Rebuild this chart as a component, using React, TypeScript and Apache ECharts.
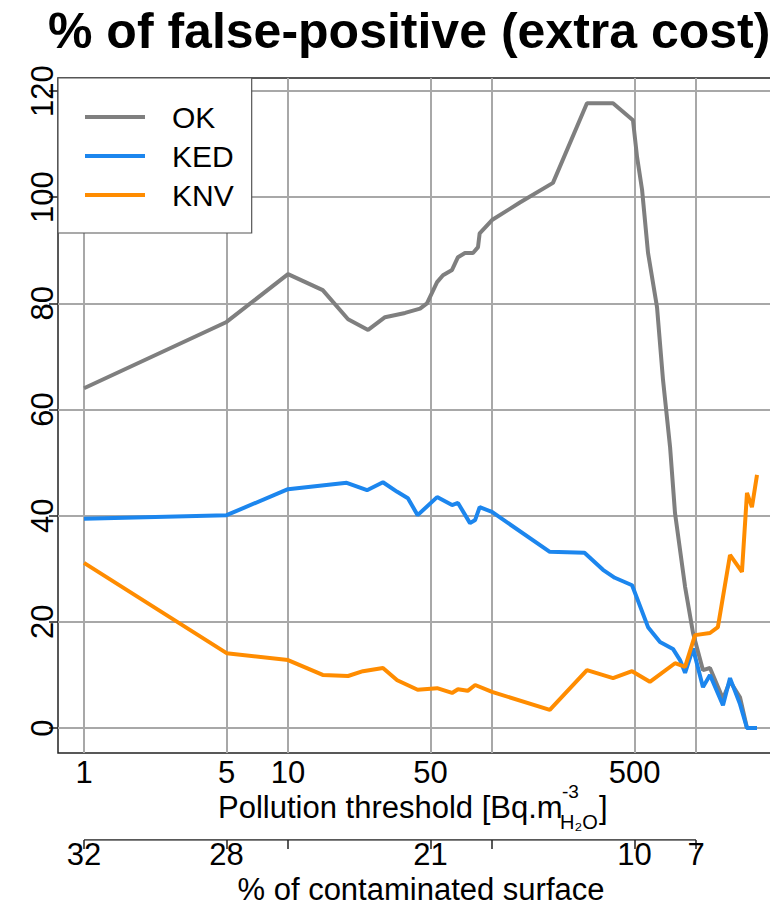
import React, { useEffect, useRef } from 'react';
import * as echarts from 'echarts';

const chartTitle = '% of false-positive (extra cost)';
const xTitleMain = 'Pollution threshold [Bq.m';
const xTitleSup = '-3';
const xTitleSub = 'H\u2082O';
const x2Title = '% of contaminated surface';
const seriesNames = ['OK', 'KED', 'KNV'];
const seriesColors = ['#7f7f7f', '#1c86ee', '#ff8c00'];

const okThreshold = [1, 5, 10, 14.8, 19.7, 24.7, 29.9, 37.5, 44.4, 48, 53.8, 57.5, 63.7, 68.1, 73.7, 80.7, 85.4, 87, 100, 137, 199, 292, 392, 491, 514, 544, 582, 644, 689, 746, 789, 884, 967, 1082, 1171, 1356, 1468, 1643, 1778, 1991];
const okValue = [64, 76.5, 85.5, 82.5, 77, 75, 77.4, 78.2, 79, 80, 84, 85.3, 86.3, 88.7, 89.5, 89.5, 90.6, 93.2, 95.7, 99, 102.7, 117.7, 117.7, 114.5, 107.6, 101.4, 89.5, 79.3, 65.6, 53, 40.5, 26.6, 17.9, 10.9, 11.3, 5.5, 8.8, 5.8, 0, 0];

const kedThreshold = [1, 5, 10, 19.4, 24.4, 29.2, 34.3, 38.7, 43.2, 53.8, 63.7, 68.1, 78, 82.7, 87, 100, 192, 284, 350, 400, 486, 582, 666, 771, 835, 884, 967, 1082, 1171, 1356, 1468, 1643, 1778, 1991];
const kedValue = [39.4, 40.1, 45, 46.2, 44.8, 46.3, 44.5, 43.3, 40.1, 43.5, 42, 42.4, 38.6, 39.2, 41.6, 40.7, 33.2, 33, 29.8, 28.3, 26.9, 19, 16.2, 14.9, 12.8, 10.4, 15, 7.7, 10, 4.3, 9.4, 4.5, 0, 0];

const knvThreshold = [1, 5, 10, 14.8, 19.7, 23.3, 29.2, 34.3, 43.2, 53.8, 63.7, 68.1, 76, 82.7, 100, 192, 292, 392, 486, 594, 789, 884, 989, 1171, 1280, 1468, 1680, 1778, 1880, 1991];
const knvValue = [31.1, 14.1, 12.8, 10, 9.8, 10.7, 11.3, 9, 7.2, 7.5, 6.6, 7.3, 7, 8.1, 6.8, 3.4, 10.9, 9.4, 10.7, 8.7, 12.2, 11.5, 17.5, 17.9, 19, 32.6, 29.4, 44.3, 41.6, 47.7];

const yTicks = [0, 20, 40, 60, 80, 100, 120];
const thresholdTicks = [1, 5, 10, 50, 100, 500, 1000];
const thresholdLabels = [1, 5, 10, 50, 500];
const surfaceTicks = [1, 5, 10, 50, 100, 500, 1000];
const surfaceLabelPos = [1, 5, 50, 500, 1000];
const surfaceLabels = ['32', '28', '21', '10', '7'];

const FONT = "'Liberation Sans', Arial, Helvetica, sans-serif";
const X_MIN = 0.7456;
const X_MAX = 2700;
const Y_MIN = -4.71;
const Y_MAX = 122.46;

function pairs(xs: number[], ys: number[]) {
  return xs.map((x, i) => [x, ys[i]]);
}

export default function App() {
  const ref = useRef<HTMLDivElement>(null);
  useEffect(() => {
    document.body.style.margin = '0';
    const chart = echarts.init(ref.current!, null, { renderer: 'svg' });
    const tickStyle = { color: '#222', width: 1.5 };
    const labelBase = { fontSize: 31, color: '#000', fontFamily: FONT };
    const option: any = {
      animation: false,
      backgroundColor: '#fff',
      grid: [
        { left: 58, top: 78, width: 726, height: 675, show: true, borderColor: '#222', borderWidth: 1.5, backgroundColor: 'transparent', outerBoundsMode: 'none', containLabel: false },
        { left: 58, top: 839, width: 726, height: 1, show: false, outerBoundsMode: 'none', containLabel: false },
      ],
      xAxis: [
        {
          type: 'log', gridIndex: 0, logBase: 10, min: X_MIN, max: X_MAX,
          axisLine: { show: false }, splitLine: { show: false }, minorTick: { show: false },
          axisTick: { show: true, customValues: thresholdTicks, length: 9, lineStyle: tickStyle },
          axisLabel: { ...labelBase, customValues: thresholdLabels, margin: 4, formatter: (v: number) => String(Math.round(v)) },
        },
        {
          type: 'log', gridIndex: 1, logBase: 10, min: X_MIN, max: X_MAX, position: 'bottom',
          axisLine: { show: false }, splitLine: { show: false }, minorTick: { show: false },
          axisTick: { show: true, customValues: surfaceTicks, length: 9, lineStyle: tickStyle },
          axisLabel: {
            ...labelBase, customValues: surfaceLabelPos, margin: 1, lineHeight: 26,
            formatter: (v: number) => {
              let best = 0;
              surfaceLabelPos.forEach((p, i) => { if (Math.abs(Math.log10(p) - Math.log10(v)) < Math.abs(Math.log10(surfaceLabelPos[best]) - Math.log10(v))) best = i; });
              return surfaceLabels[best];
            },
          },
        },
      ],
      yAxis: [
        {
          type: 'value', gridIndex: 0, min: Y_MIN, max: Y_MAX,
          axisLine: { show: false }, splitLine: { show: false },
          axisTick: { show: true, customValues: yTicks, length: 9, lineStyle: tickStyle },
          axisLabel: { ...labelBase, customValues: yTicks, rotate: 90, margin: 0 },
        },
        { type: 'value', gridIndex: 1, min: 0, max: 1, show: false },
      ],
      legend: {
        data: seriesNames, orient: 'vertical', left: 58, top: 78, z: 20,
        itemWidth: 60, itemHeight: 4, icon: 'rect', itemGap: 9,
        padding: [24, 18, 23, 27], backgroundColor: '#fff', borderColor: '#555', borderWidth: 1.2,
        textStyle: { fontSize: 30, color: '#000', fontFamily: FONT, padding: [0, 0, 0, 22], lineHeight: 30 },
      },
      graphic: [
        { type: 'text', x: 48, y: 31, style: { text: chartTitle, fontSize: 50, fontWeight: 'bold', fontFamily: FONT, fill: '#000', align: 'left', verticalAlign: 'middle' } },
        { type: 'text', x: 218, y: 807, style: { text: xTitleMain, fontSize: 31, fontFamily: FONT, fill: '#000', align: 'left', verticalAlign: 'middle', lineHeight: 28 } },
        { type: 'text', x: 562, y: 791, style: { text: xTitleSup, fontSize: 19, fontFamily: FONT, fill: '#000', align: 'left', verticalAlign: 'middle', lineHeight: 18 } },
        { type: 'text', x: 560, y: 822, style: { text: xTitleSub, fontSize: 20, fontFamily: FONT, fill: '#000', align: 'left', verticalAlign: 'middle', lineHeight: 18 } },
        { type: 'text', x: 599, y: 807, style: { text: ']', fontSize: 31, fontFamily: FONT, fill: '#000', align: 'left', verticalAlign: 'middle', lineHeight: 28 } },
        { type: 'text', x: 421, y: 889, style: { text: x2Title, fontSize: 31, fontFamily: FONT, fill: '#000', align: 'center', verticalAlign: 'middle', lineHeight: 28 } },
      ],
      series: [
        {
          name: 'grid', type: 'line', xAxisIndex: 0, yAxisIndex: 0, data: [], silent: true, z: 1,
          markLine: {
            silent: true, symbol: 'none', label: { show: false }, z: 1,
            lineStyle: { color: '#a8a8a8', width: 2, type: 'solid' },
            data: [
              ...thresholdTicks.map((v) => ({ xAxis: v })),
              ...yTicks.map((v) => ({ yAxis: v })),
            ],
          },
        },
        {
          name: 'axis2', type: 'line', xAxisIndex: 1, yAxisIndex: 1, silent: true, symbol: 'none',
          data: [[surfaceTicks[0], 0], [surfaceTicks[surfaceTicks.length - 1], 0]],
          lineStyle: { color: '#222', width: 1.5 },
        },
        { name: 'OK', type: 'line', data: pairs(okThreshold, okValue), symbol: 'none', color: seriesColors[0], z: 3, lineStyle: { width: 4, color: seriesColors[0] } },
        { name: 'KED', type: 'line', data: pairs(kedThreshold, kedValue), symbol: 'none', color: seriesColors[1], z: 3, lineStyle: { width: 4, color: seriesColors[1] } },
        { name: 'KNV', type: 'line', data: pairs(knvThreshold, knvValue), symbol: 'none', color: seriesColors[2], z: 3, lineStyle: { width: 4, color: seriesColors[2] } },
      ],
    };
    chart.setOption(option);
    return () => chart.dispose();
  }, []);
  return (
    <div style={{ width: 770, height: 905, overflow: 'hidden', position: 'relative' }}>
      <div ref={ref} style={{ width: 800, height: 905 }} />
    </div>
  );
}
